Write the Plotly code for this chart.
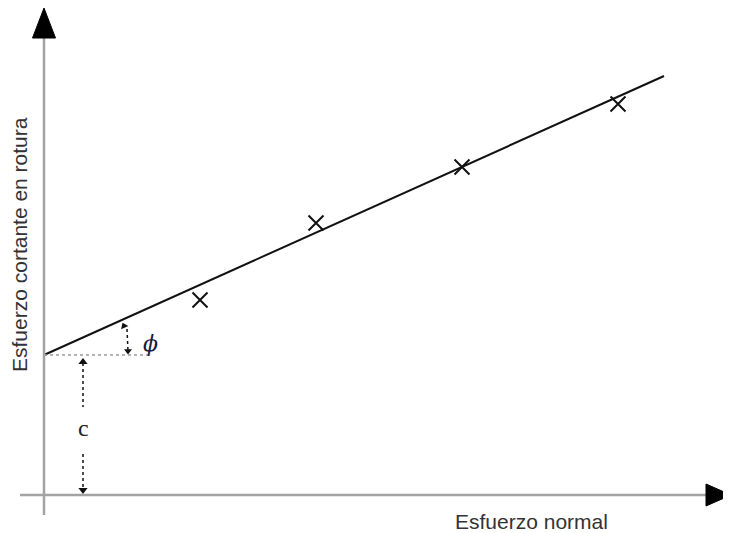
import plotly.graph_objects as go

# Data (normal stress vs. shear stress at failure), arbitrary units
normal_stress = [15.6, 27.2, 41.8, 57.4]
shear_at_failure = [19.5, 27.2, 32.8, 39.1]
cohesion = 14.0
tan_phi = 0.45
line_x = [0.0, 62.0]

x_title = "Esfuerzo normal"
y_title = "Esfuerzo cortante en rotura"
phi_label = "ϕ"
c_label = "c"

# page body has an 8px margin: figure covers page pixels 8..731 / 8..533
XR = [-3.6, 68.7]
YR = [-3.8, 48.7]
AX_COL = "#a3a3a3"

fig = go.Figure()

# Mohr-Coulomb fit line
fig.add_trace(go.Scatter(
    x=line_x, y=[cohesion + tan_phi * v for v in line_x],
    mode="lines", line=dict(color="#111111", width=2), hoverinfo="skip"))

# test points
fig.add_trace(go.Scatter(
    x=normal_stress, y=shear_at_failure, mode="markers",
    marker=dict(symbol="x-thin", size=15, line=dict(color="#111111", width=2))))

# horizontal dotted reference at c
fig.add_trace(go.Scatter(x=[0, 10.4], y=[cohesion, cohesion], mode="lines",
                         line=dict(color="#9a9a9a", width=1.5, dash="dot"), hoverinfo="skip"))

# phi dotted arrow
px_phi = 8.4
fig.add_trace(go.Scatter(x=[px_phi - 0.1, px_phi], y=[16.6, 14.4], mode="lines",
                         line=dict(color="#111111", width=1.5, dash="dot"), hoverinfo="skip"))
fig.add_trace(go.Scatter(x=[px_phi - 0.4, px_phi], y=[16.9, 14.4], mode="markers",
                         marker=dict(symbol=["triangle-up", "triangle-down"], size=7,
                                     angle=[-25, 0], color="#111111"), hoverinfo="skip"))

# c dotted arrows
cx = 3.9
fig.add_trace(go.Scatter(x=[cx, cx], y=[13.2, 8.8], mode="lines",
                         line=dict(color="#111111", width=1.5, dash="dot"), hoverinfo="skip"))
fig.add_trace(go.Scatter(x=[cx, cx], y=[4.1, 0.6], mode="lines",
                         line=dict(color="#111111", width=1.5, dash="dot"), hoverinfo="skip"))
fig.add_trace(go.Scatter(x=[cx, cx], y=[13.3, 0.5], mode="markers",
                         marker=dict(symbol=["triangle-up", "triangle-down"], size=8,
                                     color="#111111"), hoverinfo="skip"))

# axes lines
fig.add_shape(type="line", x0=0, x1=0, y0=-2.0, y1=45.8, line=dict(color=AX_COL, width=2.5))
fig.add_shape(type="line", x0=-2.4, x1=66.3, y0=0, y1=0, line=dict(color=AX_COL, width=2.5))
# arrowheads
fig.add_shape(type="path", path="M 0 48.7 L -1.15 45.7 L 1.15 45.7 Z",
              fillcolor="#000000", line=dict(color="#000000", width=1))
fig.add_shape(type="path", path="M 68.7 0 L 66.2 1.1 L 66.2 -1.1 Z",
              fillcolor="#000000", line=dict(color="#000000", width=1))

# labels
fig.add_annotation(x=10.6, y=15.2, text=phi_label, showarrow=False,
                   font=dict(family="DejaVu Serif", size=22, color="#1a1a3a", style="italic"))
fig.add_annotation(x=cx, y=6.7, text=c_label, showarrow=False,
                   font=dict(family="Liberation Serif", size=24, color="#222222"))
fig.add_annotation(x=48.7, y=-2.6, text=x_title, showarrow=False,
                   font=dict(family="Liberation Sans", size=21, color="#333333"))
fig.add_annotation(x=-2.5, y=25.0, text=y_title, showarrow=False, textangle=-90,
                   font=dict(family="Liberation Sans", size=21, color="#333333"))

fig.update_layout(
    width=723, height=525,
    margin=dict(l=0, r=0, t=0, b=0),
    paper_bgcolor="white", plot_bgcolor="white",
    showlegend=False,
    xaxis=dict(range=XR, visible=False, fixedrange=True),
    yaxis=dict(range=YR, visible=False, fixedrange=True),
)

fig.write_html("out.html")
